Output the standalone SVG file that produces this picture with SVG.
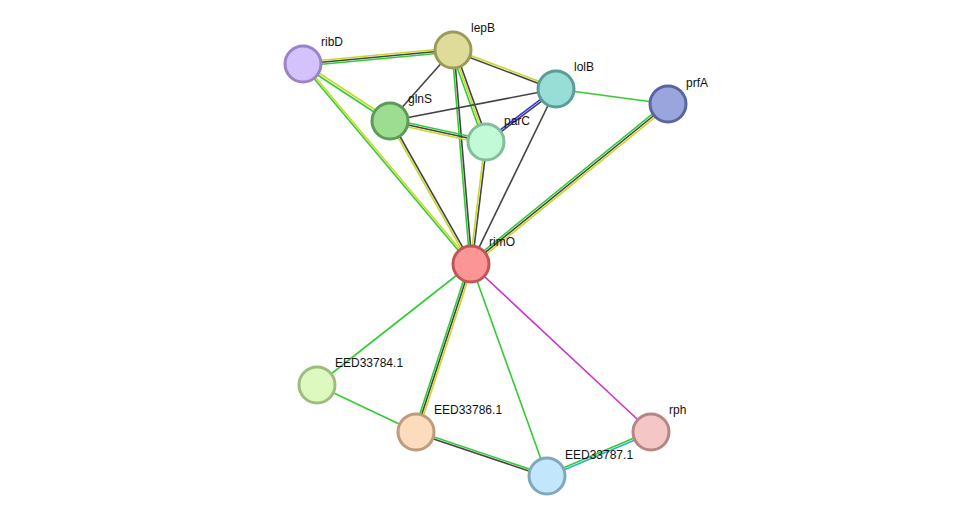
<svg xmlns="http://www.w3.org/2000/svg" width="975" height="522" viewBox="0 0 975 522">
<style>
line{stroke-width:1.6;fill:none}
.g{stroke:#33cc33}.k{stroke:#444}.y{stroke:#c8d82a}.b{stroke:#3333ff}.m{stroke:#cc33cc}.c{stroke:#33aadd}
circle{stroke-width:3}
text{font-family:"Liberation Sans",Arial,sans-serif;font-size:12px;fill:#111}
</style>
<rect width="975" height="522" fill="#fff"/>
<g id="edges">
<line class="y" x1="303" y1="62" x2="453" y2="48"/><line class="k" x1="303" y1="64" x2="453" y2="50"/><line class="g" x1="303" y1="66" x2="453" y2="52"/>
<line class="g" x1="302.3" y1="65" x2="389.3" y2="122"/><line class="y" x1="303.7" y1="63" x2="390.7" y2="120"/>
<line class="g" x1="302.2" y1="64.6" x2="470.2" y2="264.6"/><line class="y" x1="303.8" y1="63.4" x2="471.8" y2="263.4"/>
<line class="k" x1="453" y1="50" x2="390" y2="121"/>
<line class="k" x1="452.6" y1="51" x2="555.6" y2="90"/><line class="y" x1="453.4" y1="49" x2="556.4" y2="88"/>
<line class="g" x1="451.1" y1="50.7" x2="484.1" y2="142.7"/><line class="y" x1="453" y1="50" x2="486" y2="142"/><line class="k" x1="454.9" y1="49.3" x2="487.9" y2="141.3"/>
<line class="g" x1="452" y1="50" x2="470" y2="264"/><line class="k" x1="454" y1="50" x2="472" y2="264"/>
<line class="k" x1="556" y1="89" x2="390" y2="121"/>
<line class="b" x1="555.4" y1="88.2" x2="485.4" y2="141.2"/><line class="k" x1="556.6" y1="89.8" x2="486.6" y2="142.8"/>
<line class="k" x1="556" y1="89" x2="471" y2="264"/>
<line class="g" x1="556" y1="89" x2="668" y2="104"/>
<line class="g" x1="390.4" y1="119" x2="486.4" y2="140"/><line class="k" x1="390" y1="121" x2="486" y2="142"/><line class="y" x1="389.6" y1="123" x2="485.6" y2="144"/>
<line class="k" x1="390.9" y1="120.5" x2="471.9" y2="263.5"/><line class="y" x1="389.1" y1="121.5" x2="470.1" y2="264.5"/>
<line class="k" x1="487" y1="142" x2="472" y2="264"/><line class="y" x1="485" y1="142" x2="470" y2="264"/>
<line class="g" x1="666.7" y1="102.4" x2="469.7" y2="262.4"/><line class="k" x1="668" y1="104" x2="471" y2="264"/><line class="y" x1="669.3" y1="105.6" x2="472.3" y2="265.6"/>
<line class="g" x1="471" y1="264" x2="317" y2="385"/>
<line class="g" x1="469.1" y1="263.4" x2="414.1" y2="431.4"/><line class="k" x1="471" y1="264" x2="416" y2="432"/><line class="y" x1="472.9" y1="264.6" x2="417.9" y2="432.6"/>
<line class="g" x1="471" y1="264" x2="547" y2="476"/>
<line class="m" x1="471" y1="264" x2="651" y2="432"/>
<line class="g" x1="317" y1="385" x2="416" y2="432"/>
<line class="g" x1="416.3" y1="431" x2="547.3" y2="475"/><line class="k" x1="415.7" y1="433" x2="546.7" y2="477"/>
<line class="g" x1="546.6" y1="475" x2="650.6" y2="431"/><line class="c" x1="547.4" y1="477" x2="651.4" y2="433"/>
</g>
<g id="ribD"><circle cx="303" cy="64" r="18" fill="#d4c2fc" stroke="#9a83c8"/><text x="321" y="46">ribD</text></g>
<g id="lepB"><circle cx="453" cy="50" r="18" fill="#dedc98" stroke="#9c9a5a"/><text x="471" y="32">lepB</text></g>
<g id="lolB"><circle cx="556" cy="89" r="18" fill="#99ded6" stroke="#5a9c96"/><text x="574" y="71">lolB</text></g>
<g id="prfA"><circle cx="668" cy="104" r="18" fill="#9aa5de" stroke="#5a65a0"/><text x="686" y="87">prfA</text></g>
<g id="glnS"><circle cx="390" cy="121" r="18" fill="#9ddd92" stroke="#5c9c52"/><text x="408" y="103">glnS</text></g>
<g id="parC"><circle cx="486" cy="142" r="18" fill="#c2f9d6" stroke="#82bf98"/><text x="504" y="125">parC</text></g>
<g id="rimO"><circle cx="471" cy="264" r="18" fill="#fc9696" stroke="#c05656"/><text x="489" y="246">rimO</text></g>
<g id="EED33784.1"><circle cx="317" cy="385" r="18" fill="#def9bf" stroke="#9ebb80"/><text x="335" y="367">EED33784.1</text></g>
<g id="EED33786.1"><circle cx="416" cy="432" r="18" fill="#fddcbe" stroke="#bd9c7e"/><text x="434" y="414">EED33786.1</text></g>
<g id="EED33787.1"><circle cx="547" cy="476" r="18" fill="#c2e7fd" stroke="#82a7bd"/><text x="565" y="459">EED33787.1</text></g>
<g id="rph"><circle cx="651" cy="432" r="18" fill="#f5c6c6" stroke="#b58686"/><text x="669" y="414">rph</text></g>
</svg>
